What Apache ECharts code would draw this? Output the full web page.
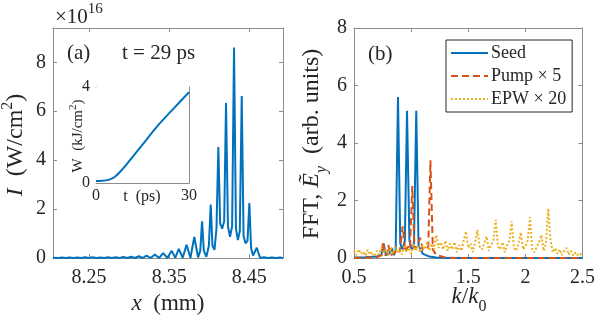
<!DOCTYPE html>
<html>
<head>
<meta charset="utf-8">
<script src="https://cdn.jsdelivr.net/npm/echarts@6/dist/echarts.min.js"></script>
<style>
html,body{margin:0;padding:0;background:#fff;}
#c{width:598px;height:321px;}
</style>
</head>
<body>
<div id="c"></div>
<script>
// ---- Panel (a): intensity vs x (units of 1e16 W/cm^2) ----
var xPos = [8.205, 8.2113, 8.2161, 8.2209, 8.2257, 8.2305, 8.2353, 8.2401, 8.2449, 8.2497,
  8.2545, 8.2593, 8.2641, 8.2689, 8.2737, 8.2785, 8.2833, 8.2881, 8.2929, 8.2977,
  8.3025, 8.3073, 8.3121, 8.3169, 8.3217, 8.3269, 8.3321, 8.3373, 8.3425, 8.3477,
  8.3530, 8.3575, 8.3620, 8.3668, 8.3717, 8.3765, 8.3813, 8.3861, 8.3888, 8.3910,
  8.3932, 8.3964, 8.3995, 8.4018, 8.4040, 8.4065, 8.4090, 8.4113, 8.4136, 8.4161,
  8.4186, 8.4209, 8.4233, 8.4259, 8.4285, 8.4309, 8.4333, 8.4357, 8.4381, 8.4405,
  8.4428, 8.4452, 8.4477, 8.4500, 8.4522, 8.4546, 8.4593, 8.4635, 8.4680, 8.4730,
  8.4780, 8.4830, 8.4880, 8.4920];
var intensity = [0.01, 0.0, 0.02, 0.0, 0.02, 0.0, 0.02, 0.0, 0.03, 0.0,
  0.03, 0.0, 0.02, 0.0, 0.03, 0.0, 0.03, 0.0, 0.04, 0.0,
  0.05, 0.0, 0.07, 0.0, 0.10, 0.0, 0.14, 0.0, 0.20, 0.0,
  0.30, 0.01, 0.37, 0.01, 0.54, 0.01, 0.86, 0.02, 0.3, 1.50,
  0.3, 0.05, 0.5, 2.18, 0.5, 0.33, 1.2, 4.54, 1.4, 1.2,
  1.5, 6.33, 1.3, 0.87, 1.3, 8.60, 1.2, 0.73, 1.1, 6.62,
  0.9, 0.6, 0.7, 2.25, 0.4, 0.1, 0.42, 0.0, 0.03, 0.0,
  0.02, 0.0, 0.02, 0.0];
var xTicksA = [8.25, 8.35, 8.45];
var yTicksA = [0, 2, 4, 6, 8];

// ---- Inset: energy W (kJ/cm^2) vs t (ps) ----
var tPs = [0, 2, 4, 6, 8, 10, 15, 20, 25, 30];
var energy = [0.08, 0.09, 0.13, 0.25, 0.5, 0.8, 1.6, 2.4, 3.1, 3.78];

// ---- Panel (b): FFT spectra vs k/k0 ----
var seedK = [0.50, 0.60, 0.70, 0.74, 0.76, 0.78, 0.81, 0.83, 0.85, 0.865, 0.885, 0.905, 0.925, 0.945,
  0.964, 0.985, 1.005, 1.025, 1.045, 1.065, 1.085, 1.10, 1.13, 1.16, 1.22, 1.30, 2.50];
var seedV = [0.02, 0.03, 0.05, 0.1, 0.5, 0.1, 0.15, 0.35, 0.1, 0.3, 5.6, 0.5, 0.3, 0.6,
  5.12, 0.6, 0.3, 0.5, 5.12, 0.4, 0.3, 0.15, 0.1, 0.05, 0.02, 0.0, 0.0];
var pumpK = [0.50, 0.70, 0.74, 0.755, 0.77, 0.79, 0.80, 0.82, 0.85, 0.88, 0.90, 0.926, 0.95, 0.97,
  0.99, 1.01, 1.03, 1.06, 1.08, 1.10, 1.13, 1.15, 1.169, 1.19, 1.22, 1.30, 1.40, 2.50];
var pumpV = [0.0, 0.02, 0.1, 0.57, 0.1, 0.15, 0.45, 0.1, 0.15, 0.3, 0.2, 1.1, 0.2, 0.4,
  0.3, 2.5, 0.3, 0.5, 0.7, 0.3, 0.3, 0.4, 3.4, 0.3, 0.1, 0.02, 0.0, 0.0];
var epwK = [0.50, 0.52, 0.54, 0.56, 0.58, 0.60, 0.62, 0.64, 0.66, 0.68, 0.70, 0.72, 0.74, 0.76, 0.78,
  0.80, 0.82, 0.84, 0.86, 0.88, 0.90, 0.92, 0.94, 0.96, 0.98, 1.00, 1.02, 1.04, 1.06, 1.08,
  1.10, 1.12, 1.14, 1.16, 1.18, 1.20, 1.22, 1.24, 1.26, 1.28, 1.30, 1.32, 1.34, 1.36, 1.38,
  1.40, 1.42, 1.44, 1.46, 1.48, 1.50, 1.52, 1.54, 1.56, 1.58, 1.60, 1.62, 1.64, 1.66, 1.68,
  1.70, 1.72, 1.74, 1.76, 1.78, 1.80, 1.82, 1.84, 1.86, 1.88, 1.90, 1.92, 1.94, 1.96, 1.98,
  2.00, 2.02, 2.04, 2.06, 2.08, 2.10, 2.12, 2.14, 2.16, 2.18, 2.20, 2.22, 2.24, 2.26, 2.28,
  2.30, 2.32, 2.34, 2.36, 2.38, 2.40, 2.42, 2.44, 2.46, 2.48, 2.50];
var epwV = [0.25, 0.1, 0.3, 0.15, 0.22, 0.08, 0.28, 0.12, 0.2, 0.05, 0.25, 0.12, 0.35, 0.18, 0.3,
  0.1, 0.35, 0.15, 0.4, 0.2, 0.3, 0.12, 0.45, 0.2, 0.35, 0.15, 0.5, 0.25, 0.4, 0.2,
  0.45, 0.3, 0.55, 0.25, 0.5, 0.3, 0.8, 0.35, 0.55, 0.3, 0.6, 0.25, 0.5, 0.3, 0.55,
  0.2, 0.45, 0.25, 0.6, 0.92, 0.35, 0.5, 0.2, 0.55, 0.98, 0.4, 0.3, 0.5, 0.75, 0.25,
  0.45, 0.6, 1.33, 0.4, 0.3, 0.55, 0.2, 0.45, 0.6, 1.27, 0.35, 0.25, 0.5, 0.89, 0.3,
  0.4, 0.6, 1.42, 0.3, 0.2, 0.4, 0.55, 0.8, 0.25, 0.5, 1.72, 0.6, 0.2, 0.35, 0.15,
  0.3, 0.1, 0.25, 0.35, 0.12, 0.25, 0.08, 0.2, 0.1, 0.15, 0.05];
var legendNames = ['Seed', 'Pump \u00d7 5', 'EPW \u00d7 20'];

function zip(a, b) { return a.map(function (v, i) { return [v, b[i]]; }); }

var FONT = 'Liberation Serif';
var TXT = '#262626';
var BOX = '#8c8c8c';
var BLUE = '#0072BD', ORANGE = '#D95319', YELLOW = '#EDB120';

function axis(kind, grid, pos, min, max, opts) {
  opts = opts || {};
  var a = {
    type: 'value', gridIndex: grid, position: pos, min: min, max: max,
    axisLine: { show: true, onZero: false, lineStyle: { color: BOX, width: 1 } },
    axisTick: { show: opts.tick !== false, inside: true, length: opts.tickLen || 4, lineStyle: { color: BOX } },
    axisLabel: { show: !!opts.label, color: TXT, fontFamily: FONT, fontSize: opts.fontSize || 20,
      margin: opts.margin || 8, showMaxLabel: opts.showMax !== false, showMinLabel: true },
    splitLine: { show: false }
  };
  if (opts.interval) a.interval = opts.interval;
  if (opts.custom) { a.axisTick.customValues = opts.custom; a.axisLabel.customValues = opts.custom; }
  if (opts.formatter) a.axisLabel.formatter = opts.formatter;
  return a;
}

var chart = echarts.init(document.getElementById('c'), null, { renderer: 'canvas' });
var option = {
  animation: false,
  backgroundColor: '#fff',
  grid: [
    { left: 53, top: 28, width: 230, height: 230 },
    { left: 354, top: 28, width: 230, height: 230 },
    { left: 96, top: 87, width: 93, height: 96, backgroundColor: '#fff', show: true, borderWidth: 0, z: 5 }
  ],
  xAxis: [
    axis('x', 0, 'bottom', 8.205, 8.492, { label: true, custom: xTicksA, margin: 10, formatter: function (v) { return v.toFixed(2); } }),
    axis('x', 0, 'top', 8.205, 8.492, { custom: xTicksA }),
    axis('x', 1, 'bottom', 0.5, 2.5, { label: true, interval: 0.5, margin: 10 }),
    axis('x', 1, 'top', 0.5, 2.5, { interval: 0.5 }),
    axis('x', 2, 'bottom', 0, 30, { label: true, custom: [0, 30], fontSize: 16, margin: 5, tick: false }),
    axis('x', 2, 'top', 0, 30, { tick: false })
  ],
  yAxis: [
    axis('y', 0, 'left', 0, 9.4, { label: true, custom: yTicksA, margin: 7 }),
    axis('y', 0, 'right', 0, 9.4, { custom: yTicksA }),
    axis('y', 1, 'left', 0, 8, { label: true, interval: 2, margin: 7 }),
    axis('y', 1, 'right', 0, 8, { interval: 2 }),
    axis('y', 2, 'left', 0, 4, { label: true, interval: 4, fontSize: 16, margin: 6, tick: false }),
    axis('y', 2, 'right', 0, 4, { tick: false, interval: 4 })
  ],
  legend: {
    data: legendNames,
    orient: 'vertical', left: 446, top: 40,
    itemWidth: 37, itemHeight: 14, itemGap: 5,
    padding: [4, 6, 4, 4],
    borderColor: '#262626', borderWidth: 1, backgroundColor: '#fff',
    itemStyle: { opacity: 0 },
    textStyle: { fontFamily: FONT, fontSize: 18, color: TXT, padding: [0, 0, 0, -2] }
  },
  series: [
    { type: 'line', xAxisIndex: 0, yAxisIndex: 0, data: zip(xPos, intensity), showSymbol: false, symbol: 'none',
      lineStyle: { color: BLUE, width: 2 }, itemStyle: { color: BLUE }, z: 2 },
    { type: 'line', xAxisIndex: 4, yAxisIndex: 4, data: zip(tPs, energy), showSymbol: false, symbol: 'none', smooth: 0.3,
      lineStyle: { color: BLUE, width: 2 }, itemStyle: { color: BLUE }, z: 6 },
    { name: legendNames[0], type: 'line', xAxisIndex: 2, yAxisIndex: 2, data: zip(seedK, seedV), showSymbol: false, symbol: 'none',
      lineStyle: { color: BLUE, width: 2 }, itemStyle: { color: BLUE }, z: 2 },
    { name: legendNames[1], type: 'line', xAxisIndex: 2, yAxisIndex: 2, data: zip(pumpK, pumpV), showSymbol: false, symbol: 'none',
      lineStyle: { color: ORANGE, width: 2, type: [7, 4] }, itemStyle: { color: ORANGE }, z: 3 },
    { name: legendNames[2], type: 'line', xAxisIndex: 2, yAxisIndex: 2, data: zip(epwK, epwV), showSymbol: false, symbol: 'none',
      lineStyle: { color: YELLOW, width: 2, type: [2, 2] }, itemStyle: { color: YELLOW }, z: 4 }
  ],
  graphic: [
    { type: 'text', left: 55, top: 2, style: { text: '{a|\u00d710}{s|16}', rich: {
      a: { fontFamily: FONT, fontSize: 21, fill: TXT, lineHeight: 26, verticalAlign: 'bottom' },
      s: { fontFamily: FONT, fontSize: 15, fill: TXT, lineHeight: 26, verticalAlign: 'top' } } } },
    { type: 'text', x: 67, y: 53, style: { text: '(a)', font: '21px "Liberation Serif"', fill: TXT, verticalAlign: 'middle' } },
    { type: 'text', x: 122, y: 53, style: { text: 't = 29 ps', font: '21px "Liberation Serif"', fill: TXT, verticalAlign: 'middle' } },
    { type: 'text', x: 368, y: 54, style: { text: '(b)', font: '21px "Liberation Serif"', fill: TXT, verticalAlign: 'middle' } },
    { type: 'text', x: 14, y: 145, rotation: Math.PI / 2, style: { text: '{i|I}{n|  (W/cm}{s|2}{n|)}', align: 'center', verticalAlign: 'middle', rich: {
      i: { fontFamily: FONT, fontStyle: 'italic', fontSize: 24, fill: TXT, lineHeight: 28, verticalAlign: 'bottom' },
      n: { fontFamily: FONT, fontSize: 24, fill: TXT, lineHeight: 28, verticalAlign: 'bottom' },
      s: { fontFamily: FONT, fontSize: 16, fill: TXT, lineHeight: 28, verticalAlign: 'top' } } } },
    { type: 'text', x: 315, y: 144, rotation: Math.PI / 2, style: { text: '{n|FFT, }{i|\u1EBC}{b|y}{n|  (arb. units)}', align: 'center', verticalAlign: 'middle', rich: {
      i: { fontFamily: FONT, fontStyle: 'italic', fontSize: 24, fill: TXT, lineHeight: 30, verticalAlign: 'top' },
      n: { fontFamily: FONT, fontSize: 24, fill: TXT, lineHeight: 30, verticalAlign: 'top' },
      b: { fontFamily: FONT, fontStyle: 'italic', fontSize: 16, fill: TXT, lineHeight: 30, verticalAlign: 'bottom' } } } },
    { type: 'text', x: 168, y: 302, style: { text: '{i|x}{n|  (mm)}', align: 'center', verticalAlign: 'middle', rich: {
      i: { fontFamily: FONT, fontStyle: 'italic', fontSize: 23, fill: TXT, lineHeight: 26, verticalAlign: 'bottom' },
      n: { fontFamily: FONT, fontSize: 23, fill: TXT, lineHeight: 26, verticalAlign: 'bottom' } } } },
    { type: 'text', x: 469, y: 300, style: { text: '{i|k}{n|/}{i|k}{s|0}', align: 'center', verticalAlign: 'middle', rich: {
      i: { fontFamily: FONT, fontStyle: 'italic', fontSize: 23, fill: TXT, lineHeight: 30, verticalAlign: 'top' },
      n: { fontFamily: FONT, fontSize: 23, fill: TXT, lineHeight: 30, verticalAlign: 'top' },
      s: { fontFamily: FONT, fontSize: 16, fill: TXT, lineHeight: 30, verticalAlign: 'bottom' } } } },
    { type: 'text', x: 142, y: 197, z: 10, style: { text: 't  (ps)', font: '16px "Liberation Serif"', fill: TXT, align: 'center', verticalAlign: 'middle' } },
    { type: 'text', x: 77, y: 136, z: 10, rotation: Math.PI / 2, style: { text: '{n|W  (kJ/cm}{s|2}{n|)}', align: 'center', verticalAlign: 'middle', rich: {
      n: { fontFamily: FONT, fontSize: 15, fill: TXT, lineHeight: 18, verticalAlign: 'bottom' },
      s: { fontFamily: FONT, fontSize: 11, fill: TXT, lineHeight: 18, verticalAlign: 'top' } } } }
  ]
};
chart.setOption(option);
</script>
</body>
</html>
